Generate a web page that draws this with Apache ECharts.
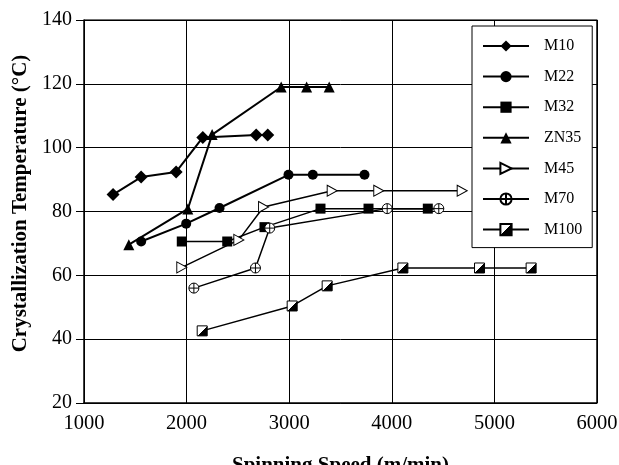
<!DOCTYPE html>
<html>
<head>
<meta charset="utf-8">
<script src="https://cdn.jsdelivr.net/npm/echarts@6/dist/echarts.min.js"></script>
<style>
  html, body { margin: 0; padding: 0; background: #fff; }
  #main { width: 619px; height: 465px; }
</style>
</head>
<body>
<div id="main"></div>
<script>
// values
const m10X = [1283, 1557, 1898, 2158, 2678, 2791];
const m10Y = [85.3, 90.8, 92.4, 103.2, 104, 104];
const m22X = [1557, 1996, 2321, 2993, 3230, 3734];
const m22Y = [70.6, 76.2, 81.1, 91.5, 91.5, 91.5];
const m32X = [1953, 2396, 2759, 3305, 3773, 4351];
const m32Y = [70.6, 70.6, 75.1, 80.9, 80.9, 80.9];
const zn35X = [1437, 2012, 2249, 2922, 3170, 3390];
const zn35Y = [69.6, 80.8, 104.1, 119, 119, 119];
const m45X = [1953, 2509, 2750, 3419, 3873, 4686];
const m45Y = [62.5, 71.1, 81.4, 86.5, 86.5, 86.5];
const m70X = [2071, 2671, 2810, 3955, 4458];
const m70Y = [56, 62.3, 74.8, 80.9, 80.9];
const m100X = [2152, 3029, 3370, 4108, 4855, 5358];
const m100Y = [42.6, 50.4, 56.7, 62.3, 62.3, 62.3];

const zip = (xs, ys) => xs.map((x, i) => [x, ys[i]]);

const FONT = '"Liberation Serif", "DejaVu Serif", serif';
const triRight = 'path://M0,0 L20,10 L0,20 Z';
const circlePlus = 'path://M0,10 A10,10 0 1,1 20,10 A10,10 0 1,1 0,10 Z M10,0 L10,20 M0,10 L20,10';
// white upper-left half, black lower-right half
const halfFill = {
  type: 'linear', x: 0, y: 0, x2: 1, y2: 1,
  colorStops: [
    { offset: 0, color: '#fff' }, { offset: 0.5, color: '#fff' },
    { offset: 0.5, color: '#000' }, { offset: 1, color: '#000' }
  ]
};

function lineSeries(name, xs, ys, symbol, size, width, fill) {
  return {
    name: name,
    type: 'line',
    data: zip(xs, ys),
    symbol: symbol,
    symbolSize: size,
    showAllSymbol: true,
    lineStyle: { color: '#000', width: width },
    itemStyle: fill === '#000'
      ? { color: '#000', borderColor: '#000', borderWidth: 0 }
      : { color: fill, borderColor: '#000', borderWidth: 1 },
    emphasis: { disabled: true },
    z: 3
  };
}

let myChart = echarts.init(document.getElementById('main'));
let option = {
  animation: false,
  backgroundColor: '#fff',
  grid: { left: 84, right: 22, top: 20, bottom: 62, outerBoundsMode: 'none', containLabel: false },
  legend: {
    orient: 'vertical',
    left: 472,
    top: 26,
    padding: [12, 10, 10, 10],
    itemWidth: 46,
    itemHeight: 14,
    itemGap: 14.6,
    backgroundColor: '#fff',
    borderColor: '#000',
    borderWidth: 1,
    selectedMode: false,
    textStyle: { fontFamily: FONT, fontSize: 16, color: '#000', padding: [0, 0, 0, 10] },
    data: ['M10', 'M22', 'M32', 'ZN35', 'M45', 'M70', 'M100']
  },
  xAxis: {
    type: 'value',
    min: 1000,
    max: 6000,
    interval: 1000,
    name: 'Spinning Speed (m/min)',
    nameLocation: 'middle',
    nameGap: 52,
    nameTextStyle: { fontFamily: FONT, fontSize: 21, fontWeight: 'bold', color: '#000' },
    axisLine: { show: true, lineStyle: { color: '#000', width: 1.5 } },
    axisTick: { show: false },
    axisLabel: { fontFamily: FONT, fontSize: 20.5, color: '#000', margin: 10, formatter: v => String(v) },
    splitLine: { show: true, lineStyle: { color: '#000', width: 1 } }
  },
  yAxis: {
    type: 'value',
    min: 20,
    max: 140,
    interval: 20,
    name: 'Crystallization Temperature (°C)',
    nameLocation: 'middle',
    nameGap: 51,
    nameTextStyle: { fontFamily: FONT, fontSize: 21, fontWeight: 'bold', color: '#000', padding: [0, 0, 0, 16] },
    axisLine: { show: true, lineStyle: { color: '#000', width: 1.5 } },
    axisTick: { show: true, length: 8, lineStyle: { color: '#000' } },
    axisLabel: { fontFamily: FONT, fontSize: 20, color: '#000', margin: 12 },
    splitLine: { show: true, lineStyle: { color: '#000', width: 1 } }
  },
  series: [
    lineSeries('M10', m10X, m10Y, 'diamond', 13, 2, '#000'),
    lineSeries('M22', m22X, m22Y, 'circle', 10, 2, '#000'),
    lineSeries('M32', m32X, m32Y, 'rect', 10, 1.5, '#000'),
    lineSeries('ZN35', zn35X, zn35Y, 'triangle', 11, 2, '#000'),
    lineSeries('M45', m45X, m45Y, triRight, [10, 11], 1.5, '#fff'),
    lineSeries('M70', m70X, m70Y, circlePlus, 10, 1.5, '#fff'),
    lineSeries('M100', m100X, m100Y, 'rect', 10, 1.5, halfFill),
    {
      // frame on top and right
      type: 'line',
      data: [[1000, 140], [6000, 140], [6000, 20]],
      symbol: 'none',
      lineStyle: { color: '#000', width: 1.5 },
      silent: true,
      z: 1
    }
  ]
};
myChart.setOption(option);
</script>
</body>
</html>
